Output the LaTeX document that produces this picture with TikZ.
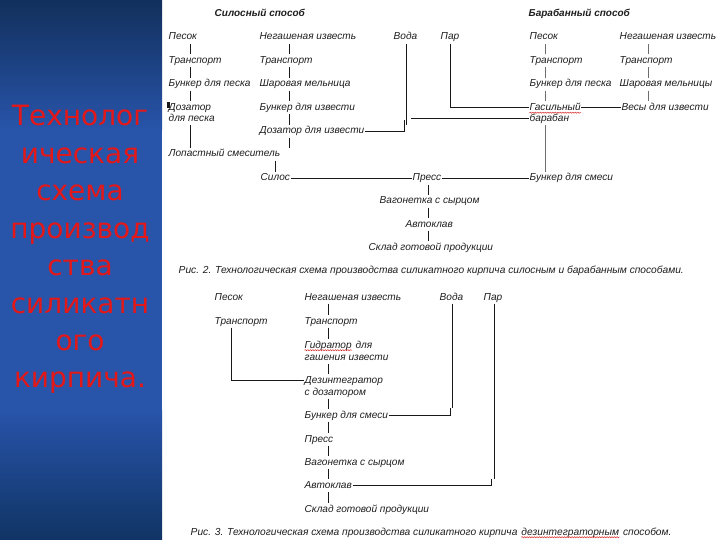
\documentclass[tikz,border=0pt]{standalone}
\usepackage{fontspec}
\setmainfont{Liberation Sans}
\newfontfamily\leftfont{DejaVu Sans}
\usetikzlibrary{calc,decorations.pathmorphing}
\definecolor{txt}{RGB}{30,30,30}
\definecolor{lnc}{RGB}{25,25,25}
\definecolor{lngrey}{RGB}{110,110,110}
\definecolor{redt}{RGB}{228,24,24}
\definecolor{bluetop}{RGB}{18,48,92}
\definecolor{bluemid}{RGB}{40,84,170}
\definecolor{bluebot}{RGB}{16,52,100}
\definecolor{squigc}{RGB}{220,40,40}
\begin{document}
\begin{tikzpicture}[x=1pt,y=-1pt,
 lbl/.style={anchor=base west,inner xsep=0.5pt,inner ysep=1.5pt,text height=7.5pt,text depth=2pt,font=\fontsize{10.1}{12}\selectfont\itshape,text=txt},
 ttl/.style={anchor=base west,inner sep=0.5pt,font=\fontsize{10}{12}\selectfont\bfseries\itshape,text=txt},
 capt/.style={anchor=base west,inner sep=0.5pt,font=\fontsize{10.2}{12}\selectfont\itshape,text=txt},
 ln/.style={draw=lnc,line width=0.8pt},
 lng/.style={draw=lngrey,line width=0.8pt},
 squig/.style={draw=squigc,line width=0.5pt,decorate,decoration={snake,amplitude=0.6pt,segment length=2.5pt}},
 lefttxt/.style={anchor=base,inner sep=0pt,font=\leftfont\fontsize{28}{34}\selectfont,text=redt}]
\useasboundingbox (0,0) rectangle (720,540);
\fill[white] (0,0) rectangle (720,540);
\shade[top color=bluetop,bottom color=bluemid] (0,0) rectangle (162,130);
\fill[bluemid] (0,130) rectangle (162,410);
\shade[top color=bluemid,bottom color=bluebot] (0,410) rectangle (162,540);

% left title
\node[lefttxt] (l1) at (80,126) {Технолог};
\node[lefttxt] (l2) at (80,163.4) {ическая};
\node[lefttxt] (l3) at (80,200.8) {схема};
\node[lefttxt] (l4) at (80,238.2) {производ};
\node[lefttxt] (l5) at (80,275.6) {ства};
\node[lefttxt] (l6) at (80,313) {силикатн};
\node[lefttxt] (l7) at (80,350.4) {ого};
\node[lefttxt] (l8) at (80,387.8) {кирпича.};

% column coordinates
\coordinate (cA) at (190.5,0);
\coordinate (cB) at (289,0);
\coordinate (cC) at (275,0);
\coordinate (cV) at (406.5,0);
\coordinate (cVb) at (404,120);
\coordinate (cVr) at (411,0);
\coordinate (cP) at (450,0);
\coordinate (cD) at (545,0);
\coordinate (cE) at (648,0);
\coordinate (cF) at (428,0);

% ---- top diagram
\node[ttl] (t1) at (214,17) {Силосный способ};
\node[ttl] (t2) at (528,17) {Барабанный способ};

\node[lbl] (pesA) at (168,40) {Песок};
\node[lbl] (trA) at (168,63.5) {Транспорт};
\node[lbl] (bunA) at (168,87) {Бункер для песка};
\node[lbl] (dozA1) at (168,110.5) {Дозатор};
\node[lbl] (dozA2) at (168,121.5) {для песка};
\node[lbl] (lop) at (168,157) {Лопастный смеситель};
\node[lbl] (negB) at (259,40) {Негашеная известь};
\node[lbl] (trB) at (259,63.5) {Транспорт};
\node[lbl] (sharB) at (259,87) {Шаровая мельница};
\node[lbl] (bunIB) at (259,110.5) {Бункер для извести};
\node[lbl] (dozIB) at (259,134) {Дозатор для извести};
\node[lbl] (voda) at (393,40) {Вода};
\node[lbl] (par) at (440,40) {Пар};
\node[lbl] (pesD) at (529,40) {Песок};
\node[lbl] (trD) at (529,63.5) {Транспорт};
\node[lbl] (bunD) at (529,87) {Бункер для песка};
\node[lbl] (gas1) at (529,110.5) {Гасильный};
\node[lbl] (gas2) at (529,121.5) {барабан};
\node[lbl] (negE) at (619,40) {Негашеная известь};
\node[lbl] (trE) at (619,63.5) {Транспорт};
\node[lbl] (sharE) at (619,87) {Шаровая мельницы};
\node[lbl] (vesy) at (621,110.5) {Весы для извести};
\node[lbl] (silos) at (260,181) {Силос};
\node[lbl] (press) at (412,181) {Пресс};
\node[lbl] (bunSm) at (529,181) {Бункер для смеси};
\node[lbl] (vag) at (379,204) {Вагонетка с сырцом};
\node[lbl] (avto) at (405,227) {Автоклав};
\node[lbl] (sklad) at (368,250) {Склад готовой продукции};
\node[capt] (cap2) at (178,273) {Рис. 2. Технологическая схема производства силикатного кирпича силосным и барабанным способами.};

\draw[squig] ($(gas1.base west)+(0.5,2.2)$) -- ($(gas1.base east)+(-0.5,2.2)$);
\fill[lnc] (167.3,101.7) rectangle (169.5,108.3);

\draw[ln] (pesA.south -| cA) -- (trA.north -| cA);
\draw[ln] (trA.south -| cA) -- (bunA.north -| cA);
\draw[ln] (bunA.south -| cA) -- (dozA1.north -| cA);
\draw[ln] (dozA2.south -| cA) -- (lop.north -| cA);
\draw[ln] (negB.south -| cB) -- (trB.north -| cB);
\draw[ln] (trB.south -| cB) -- (sharB.north -| cB);
\draw[ln] (sharB.south -| cB) -- (bunIB.north -| cB);
\draw[ln] (bunIB.south -| cB) -- (dozIB.north -| cB);
\draw[ln] (dozIB.south -| cB) -- (lop.north -| cB);
\draw[ln] (lop.south -| cC) -- (silos.north -| cC);
\draw[ln] (voda.south -| cV) -- (cV |- 0,125);
\draw[ln] (dozIB.east) -| (cVb);
\draw[ln] (cVr |- gas2.west) -- (gas2.west);
\draw[ln] (par.south -| cP) |- (gas1.west);
\draw[ln] (gas1.east) -- (vesy.west);
\draw[lng] (pesD.south -| cD) -- (trD.north -| cD);
\draw[lng] (trD.south -| cD) -- (bunD.north -| cD);
\draw[lng] (bunD.south -| cD) -- (gas1.north -| cD);
\draw[lng] (gas2.south -| cD) -- (bunSm.north -| cD);
\draw[lng] (negE.south -| cE) -- (trE.north -| cE);
\draw[lng] (trE.south -| cE) -- (sharE.north -| cE);
\draw[lng] (sharE.south -| cE) -- (vesy.north -| cE);
\draw[ln] (silos.east) -- (press.west);
\draw[ln] (press.east) -- (bunSm.west);
\draw[ln] (press.south -| cF) -- (vag.north -| cF);
\draw[ln] (vag.south -| cF) -- (avto.north -| cF);
\draw[ln] (avto.south -| cF) -- (sklad.north -| cF);

% ---- bottom diagram
\coordinate (cG) at (328.5,0);
\coordinate (cH) at (231,0);
\coordinate (cW) at (452.5,0);
\coordinate (cWb) at (450,408);
\coordinate (cQ) at (494,0);
\coordinate (cQb) at (491,479);

\node[lbl] (pesH) at (214,300) {Песок};
\node[lbl] (trH) at (214,324) {Транспорт};
\node[lbl] (negG) at (304,300) {Негашеная известь};
\node[lbl] (vodaB) at (439,300) {Вода};
\node[lbl] (parB) at (483,300) {Пар};
\node[lbl] (trG) at (304,324) {Транспорт};
\node[lbl] (gid1) at (304,348) {Гидратор};
\node[lbl] (gid1b) at ($(gid1.base east)+(2.5,0)$) {для};
\node[lbl] (gid2) at (304,360) {гашения извести};
\node[lbl] (dez1) at (304,383) {Дезинтегратор};
\node[lbl] (dez2) at (304,395) {с дозатором};
\node[lbl] (bunG) at (304,418) {Бункер для смеси};
\node[lbl] (presG) at (304,442) {Пресс};
\node[lbl] (vagG) at (304,465) {Вагонетка с сырцом};
\node[lbl] (avtoG) at (304,488.5) {Автоклав};
\node[lbl] (skladG) at (304,512) {Склад готовой продукции};
\node[capt] (cap3a) at (190,535) {Рис. 3. Технологическая схема производства силикатного кирпича};
\node[capt] (cap3b) at ($(cap3a.base east)+(2.6,0)$) {дезинтеграторным};
\node[capt] (cap3c) at ($(cap3b.base east)+(2.6,0)$) {способом.};

\draw[squig] ($(gid1.base west)+(0.5,2.2)$) -- ($(gid1.base east)+(-0.5,2.2)$);
\draw[squig] ($(cap3b.base west)+(0.5,2.2)$) -- ($(cap3b.base east)+(-0.5,2.2)$);

\draw[ln] (negG.south -| cG) -- (trG.north -| cG);
\draw[ln] (trG.south -| cG) -- (gid1.north -| cG);
\draw[ln] (gid2.south -| cG) -- (dez1.north -| cG);
\draw[ln] (dez2.south -| cG) -- (bunG.north -| cG);
\draw[ln] (bunG.south -| cG) -- (presG.north -| cG);
\draw[ln] (presG.south -| cG) -- (vagG.north -| cG);
\draw[ln] (vagG.south -| cG) -- (avtoG.north -| cG);
\draw[ln] (avtoG.south -| cG) -- (skladG.north -| cG);
\draw[ln] (trH.south -| cH) |- (dez1.west);
\draw[ln] (vodaB.south -| cW) -- (cW |- cWb);
\draw[ln] (bunG.east) -| (cWb);
\draw[ln] (parB.south -| cQ) -- (cQ |- cQb);
\draw[ln] (avtoG.east) -| (cQb);
\end{tikzpicture}
\end{document}
